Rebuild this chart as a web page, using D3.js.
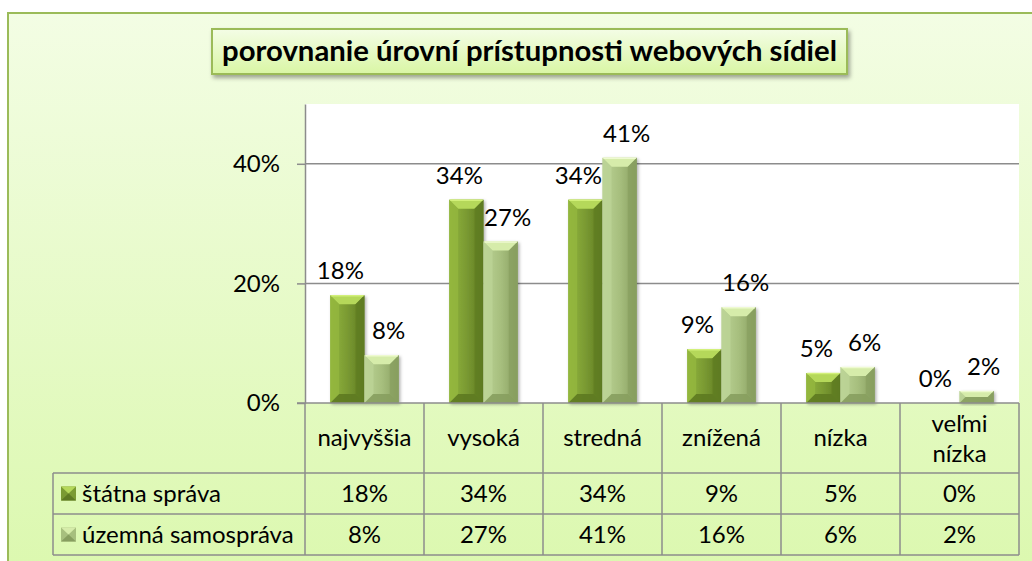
<!DOCTYPE html>
<html>
<head>
<meta charset="utf-8">
<script src="https://cdn.jsdelivr.net/npm/d3@7"></script>
<style>
  body { margin: 0; background: #fff; }
  svg { display: block; font-family: Lato, 'Open Sans', sans-serif; }
</style>
</head>
<body>
<div id="chart"></div>
<script>
// data
const categories = ['najvyššia', 'vysoká', 'stredná', 'znížená', 'nízka', 'veľmi nízka']
const seriesNames = ['štátna správa', 'územná samospráva']
const statnaSprava = [0.18, 0.34, 0.34, 0.09, 0.05, 0.00]
const uzemnaSamosprava = [0.08, 0.27, 0.41, 0.16, 0.06, 0.02]
const yTicks = [0, 0.2, 0.4]
const title = 'porovnanie úrovní prístupnosti webových sídiel'

const width = 1032, height = 561
const plot = { left: 305, right: 1019, top: 104, bottom: 403 }
const rowH = [70, 41, 41]   // header row + two data rows
const legendLeft = 53
const gridCol = '#8c8c8c'
const fs = 24

// palette per series: main, light edge, dark edge, top face
const pal = [
  { main: '#7a9a32', light: '#93b63f', dark: '#5e7a22', top: '#b5d85a', hi: '#d2f07a' },
  { main: '#a7bf7e', light: '#bcd396', dark: '#879e5f', top: '#d6ecaa', hi: '#eefad0' }
]

const values = [statnaSprava, uzemnaSamosprava]
const data = categories.map((c, i) => ({ cat: c, vals: values.map(v => v[i]) }))

const svg = d3.select('#chart').append('svg')
  .attr('width', width).attr('height', height)

const defs = svg.append('defs')

const bg = defs.append('linearGradient').attr('id', 'bgGrad')
  .attr('x1', 0).attr('y1', 0).attr('x2', 0).attr('y2', 1)
bg.append('stop').attr('offset', 0).attr('stop-color', '#f3fde4')
bg.append('stop').attr('offset', 1).attr('stop-color', '#dbf8ae')

const tg = defs.append('linearGradient').attr('id', 'titleGrad')
  .attr('x1', 0).attr('y1', 0).attr('x2', 0).attr('y2', 1)
tg.append('stop').attr('offset', 0).attr('stop-color', '#f4fde6')
tg.append('stop').attr('offset', 1).attr('stop-color', '#d9f6a4')

const sh = defs.append('filter').attr('id', 'shadow')
  .attr('x', -0.1).attr('y', -0.2).attr('width', 1.3).attr('height', 1.5)
sh.append('feDropShadow').attr('dx', 2).attr('dy', 3).attr('stdDeviation', 2)
  .attr('flood-color', '#000').attr('flood-opacity', 0.35)

const barSh = defs.append('filter').attr('id', 'barShadow')
  .attr('x', -0.2).attr('y', -0.1).attr('width', 1.5).attr('height', 1.3)
barSh.append('feDropShadow').attr('dx', 1.5).attr('dy', 1.5).attr('stdDeviation', 1.5)
  .attr('flood-color', '#000').attr('flood-opacity', 0.3)

pal.forEach((p, i) => {
  const g = defs.append('linearGradient').attr('id', 'barGrad' + i)
    .attr('x1', 0).attr('y1', 0).attr('x2', 1).attr('y2', 0)
  g.append('stop').attr('offset', 0).attr('stop-color', p.light)
  g.append('stop').attr('offset', 0.5).attr('stop-color', p.main)
  g.append('stop').attr('offset', 1).attr('stop-color', p.dark)
})

// chart area background + border (runs off the right and bottom)
svg.append('rect')
  .attr('x', 8).attr('y', 13).attr('width', 1040).attr('height', 570)
  .attr('fill', 'url(#bgGrad)')
  .attr('stroke', '#9bbb59').attr('stroke-width', 2)

// plot area
svg.append('rect')
  .attr('x', plot.left).attr('y', plot.top)
  .attr('width', plot.right - plot.left).attr('height', plot.bottom - plot.top)
  .attr('fill', '#fff')

const x = d3.scaleBand().domain(categories).range([plot.left, plot.right])
const groupW = 68.6
const xs = d3.scaleBand().domain(seriesNames)
  .range([(x.bandwidth() - groupW) / 2, (x.bandwidth() + groupW) / 2])
const y = d3.scaleLinear().domain([0, 0.5]).range([plot.bottom, plot.top])
const pct = d3.format('.0%')

// gridlines
svg.append('g').selectAll('line')
  .data(yTicks.filter(d => d > 0))
  .join('line')
  .attr('x1', plot.left).attr('x2', plot.right)
  .attr('y1', d => y(d)).attr('y2', d => y(d))
  .attr('stroke', gridCol).attr('stroke-width', 1.5)

// y axis
const yAxis = svg.append('g')
  .attr('transform', `translate(${plot.left},0)`)
  .call(d3.axisLeft(y).tickValues(yTicks).tickFormat(pct)
    .tickSize(8).tickSizeOuter(0).tickPadding(17))
yAxis.select('.domain').attr('stroke', gridCol).attr('stroke-width', 1.5)
yAxis.selectAll('.tick line').attr('stroke', gridCol).attr('stroke-width', 1.5)
yAxis.selectAll('.tick text')
  .attr('font-family', 'Lato, sans-serif').attr('font-size', fs).attr('fill', '#000')

// bars with bevel
const bars = svg.append('g').selectAll('g.cat')
  .data(data)
  .join('g')
  .attr('class', 'cat')
  .attr('transform', d => `translate(${x(d.cat)},0)`)

bars.each(function(d) {
  const g = d3.select(this)
  d.vals.forEach((v, i) => {
    const bx = xs(seriesNames[i]), bw = xs.bandwidth()
    const by = y(v), bh = y(0) - y(v)
    if (bh <= 0) return
    const p = pal[i]
    const b = Math.min(9, bh / 2)
    const bg = g.append('g').attr('filter', 'url(#barShadow)')
    bg.append('rect').attr('x', bx).attr('y', by).attr('width', bw).attr('height', bh)
      .attr('fill', 'url(#barGrad' + i + ')')
    // top bevel
    bg.append('polygon')
      .attr('points', [[bx, by], [bx + bw, by], [bx + bw - b, by + b], [bx + b, by + b]].join(' '))
      .attr('fill', p.top)
    // left bevel
    bg.append('polygon')
      .attr('points', [[bx, by], [bx + b, by + b], [bx + b, by + bh - b], [bx, by + bh]].join(' '))
      .attr('fill', p.light).attr('opacity', 0.8)
    // right bevel
    bg.append('polygon')
      .attr('points', [[bx + bw, by], [bx + bw - b, by + b], [bx + bw - b, by + bh - b], [bx + bw, by + bh]].join(' '))
      .attr('fill', p.dark).attr('opacity', 0.7)
    // bottom bevel
    bg.append('polygon')
      .attr('points', [[bx, by + bh], [bx + b, by + bh - b], [bx + bw - b, by + bh - b], [bx + bw, by + bh]].join(' '))
      .attr('fill', p.dark).attr('opacity', 0.9)
    bg.append('line')
      .attr('x1', bx + 1).attr('x2', bx + bw - 1).attr('y1', by + 0.5).attr('y2', by + 0.5)
      .attr('stroke', p.hi).attr('stroke-width', 1.5)
  })
})

// value labels
bars.selectAll('text.val')
  .data(d => d.vals.map((v, i) => ({ v, i })))
  .join('text')
  .attr('class', 'val')
  .attr('x', d => xs(seriesNames[d.i]) + xs.bandwidth() / 2 + (d.i === 0 ? -7 : 7))
  .attr('y', d => y(d.v) - 16)
  .attr('text-anchor', 'middle')
  .attr('font-size', fs)
  .text(d => pct(d.v))

// data table
const tableTop = plot.bottom
const rowY = [tableTop, tableTop + rowH[0], tableTop + rowH[0] + rowH[1], tableTop + rowH[0] + rowH[1] + rowH[2]]
const table = svg.append('g')
  .attr('stroke', gridCol).attr('stroke-width', 1.5)

table.append('line')
  .attr('x1', plot.left - 8).attr('x2', plot.right)
  .attr('y1', rowY[0]).attr('y2', rowY[0])
table.selectAll('line.h')
  .data(rowY.slice(1))
  .join('line')
  .attr('class', 'h')
  .attr('x1', legendLeft).attr('x2', plot.right)
  .attr('y1', d => d).attr('y2', d => d)
table.selectAll('line.v')
  .data(categories.map(c => x(c)).concat([plot.right]))
  .join('line')
  .attr('class', 'v')
  .attr('x1', d => d).attr('x2', d => d)
  .attr('y1', rowY[0]).attr('y2', rowY[3])
table.append('line')
  .attr('x1', legendLeft).attr('x2', legendLeft)
  .attr('y1', rowY[1]).attr('y2', rowY[3])

// category headers
const head = svg.append('g').selectAll('text')
  .data(categories)
  .join('text')
  .attr('x', d => x(d) + x.bandwidth() / 2)
  .attr('text-anchor', 'middle')
  .attr('font-size', fs)
head.each(function(d) {
  const words = d.split(' ')
  const t = d3.select(this)
  if (words.length === 1) {
    t.append('tspan').attr('y', rowY[0] + rowH[0] / 2 + 8).text(d)
  } else {
    words.forEach((w, k) => t.append('tspan')
      .attr('x', x(d) + x.bandwidth() / 2)
      .attr('y', rowY[0] + 29 + k * 30).text(w))
  }
})

// table values
values.forEach((vals, i) => {
  svg.append('g').selectAll('text')
    .data(vals.map((v, k) => ({ v, cat: categories[k] })))
    .join('text')
    .attr('x', d => x(d.cat) + x.bandwidth() / 2)
    .attr('y', rowY[i + 1] + rowH[i + 1] / 2 + 8)
    .attr('text-anchor', 'middle')
    .attr('font-size', fs)
    .text(d => pct(d.v))
})

// legend keys in the table
const leg = svg.append('g').selectAll('g')
  .data(seriesNames)
  .join('g')
  .attr('transform', (d, i) => `translate(${legendLeft + 8},${rowY[i + 1] + rowH[i + 1] / 2 - 7})`)
leg.append('rect')
  .attr('width', 15).attr('height', 14)
  .attr('fill', (d, i) => pal[i].main)
leg.append('polygon')
  .attr('points', '0,0 15,0 7.5,7')
  .attr('fill', (d, i) => pal[i].top)
leg.append('polygon')
  .attr('points', '0,14 15,14 7.5,7')
  .attr('fill', (d, i) => pal[i].dark)
leg.append('text')
  .attr('x', 21).attr('y', 15)
  .attr('font-size', fs)
  .text(d => d)

// title box
const tb = svg.append('g')
tb.append('rect')
  .attr('x', 212).attr('y', 29).attr('width', 635).attr('height', 45)
  .attr('fill', 'url(#titleGrad)')
  .attr('stroke', '#9bbb59').attr('stroke-width', 2)
  .attr('filter', 'url(#shadow)')
tb.append('text')
  .attr('x', 529.5).attr('y', 61)
  .attr('text-anchor', 'middle')
  .attr('font-size', 29.3).attr('font-weight', 'bold')
  .text(title)
</script>
</body>
</html>
